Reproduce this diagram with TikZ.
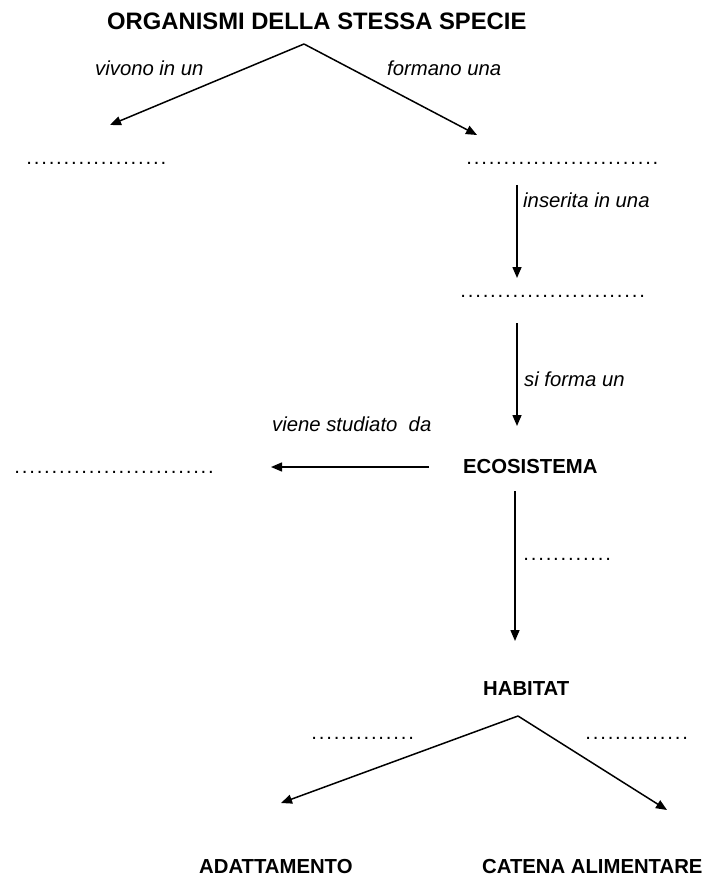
\documentclass[tikz,border=0pt]{standalone}
\usepackage{fontspec}
\setmainfont{Liberation Sans}
\usetikzlibrary{arrows.meta}
\newcount\pcnt
\newcommand\puntini[1]{\pcnt=0 \loop\ifnum\pcnt<#1 \hbox to 7.45pt{\hss.\hss}\advance\pcnt by 1 \repeat}
\tikzset{
  lab/.style={font=\fontsize{20.3}{24}\selectfont\itshape, inner sep=0pt, anchor=base west},
  concept/.style={font=\fontsize{20.3}{24}\selectfont\bfseries, inner sep=0pt, anchor=base west},
  titlebox/.style={font=\fontsize{23.8}{28}\selectfont\bfseries, inner sep=0pt, anchor=base west},
  blank/.style={font=\fontsize{20.3}{24}\selectfont, inner sep=0pt, anchor=base west},
  arr/.style={line width=1.5pt, -{Triangle[length=11pt,width=9pt]}}
}
\begin{document}
\begin{tikzpicture}[x=1pt,y=-1pt]
\useasboundingbox (0,0) rectangle (711,877);
% texts
\node[titlebox] (org) at (107,30) {ORGANISMI DELLA STESSA SPECIE};
\node[lab] (vivono) at (95,76) {vivono in un};
\node[lab] (formano) at (387,76) {formano una};
\node[blank] (b1) at (25.3,164.5) {\puntini{19}};
\node[blank] (b2) at (465.3,164.5) {\puntini{26}};
\node[lab] (inserita) at (523,208) {inserita in una};
\node[blank] (b3) at (459.3,297.5) {\puntini{25}};
\node[lab] (siforma) at (524,386) {si forma un};
\node[lab] (viene) at (272,431) {viene studiato~ da};
\node[concept] (eco) at (463,473) {ECOSISTEMA};
\node[blank] (b4) at (13.3,473) {\puntini{27}};
\node[blank] (b5) at (522.3,560.5) {\puntini{12}};
\node[concept] (hab) at (483,695) {HABITAT};
\node[blank] (b6) at (310.3,739.5) {\puntini{14}};
\node[blank] (b7) at (584.3,739.5) {\puntini{14}};
\node[concept] (adatt) at (199,873) {ADATTAMENTO};
\node[concept] (catena) at (482,873) {CATENA ALIMENTARE};
% connector end points
\coordinate (top) at (304,44);
\coordinate (t1) at (110,125);
\coordinate (t2) at (477,135);
\coordinate (s3) at (517,185);
\coordinate (t3) at (517,278);
\coordinate (s4) at (517,323);
\coordinate (t4) at (517,426);
\coordinate (s5) at (429,467);
\coordinate (t5) at (271,467);
\coordinate (s6) at (515,491);
\coordinate (t6) at (515,641);
\coordinate (hb) at (518,716);
\coordinate (t7) at (281,803);
\coordinate (t8) at (667,810);
% connectors
\draw[arr] (top) -- (t1);
\draw[arr] (top) -- (t2);
\draw[arr] (s3) -- (t3);
\draw[arr] (s4) -- (t4);
\draw[arr] (s5) -- (t5);
\draw[arr] (s6) -- (t6);
\draw[arr] (hb) -- (t7);
\draw[arr] (hb) -- (t8);
\end{tikzpicture}
\end{document}
